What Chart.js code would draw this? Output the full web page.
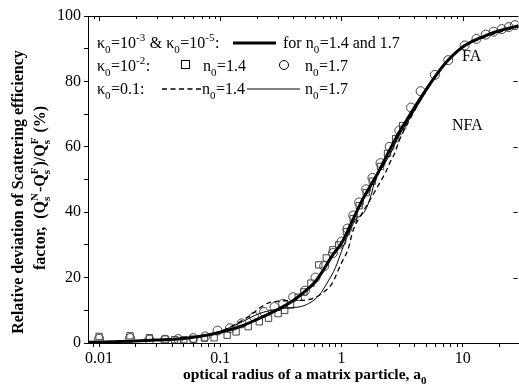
<!DOCTYPE html>
<html>
<head>
<meta charset="utf-8">
<script src="https://cdn.jsdelivr.net/npm/chart.js@4"></script>
<style>
html,body{margin:0;padding:0;background:#fff;overflow:hidden;width:519px;height:386px;}
canvas{display:block;}
</style>
</head>
<body>
<canvas id="c" width="524" height="386"></canvas>
<script>
// ---- data ----
const xMin = 0.0081, xMax = 28.9;
const xTickLabels = [0.01, 0.1, 1, 10];
const xMinorTicks = [0.009,0.01,0.02,0.03,0.04,0.05,0.06,0.07,0.08,0.09,0.1,0.2,0.3,0.4,0.5,0.6,0.7,0.8,0.9,1,2,3,4,5,6,7,8,9,10,20];
const yTickLabels = [0, 20, 40, 60, 80, 100];

// kappa0 = 1e-3 & 1e-5 (thick solid)
const aThick = [0.0081,0.01,0.02,0.03,0.05,0.07,0.1,0.15,0.2,0.3,0.4,0.5,0.6,0.7,0.85,1.0,1.2,1.5,2,2.5,3,3.5,4,5,7,10,15,20,29];
const vThick = [0.2,0.3,0.6,0.9,1.4,2.1,3.3,5.2,7.2,10.3,13,15.8,18.5,22,27,30.5,36.5,44,52,59,64.5,68.5,72,77.5,85,90.5,93.8,95.5,97];

// kappa0 = 0.1, n0 = 1.4 (dashed)
const aDash = [0.0081,0.01,0.03,0.05,0.07,0.1,0.13,0.17,0.24,0.3,0.4,0.54,0.69,0.83,0.91,1.0,1.13,1.25,1.5,1.8,2.0,2.3,2.5,2.75,3.0,3.5,4,5,7,10,15,20,29];
const vDash = [0.2,0.3,0.9,1.5,2.2,3.5,5.5,8,12,12.8,13,13.3,15.2,18,21,24.5,28.5,34.5,40,45,48,52,55,58,62,67,71,77,85,90.3,93.5,95,96.7];

// kappa0 = 0.1, n0 = 1.7 (thin solid)
const aThin = [0.0081,0.01,0.03,0.05,0.07,0.1,0.143,0.21,0.29,0.38,0.47,0.56,0.65,0.78,0.89,1.0,1.13,1.3,1.57,1.75,1.9,2.2,2.5,3,3.5,4,5,7,10,15,20,29];
const vThin = [0.2,0.3,0.9,1.5,2.2,3.6,6,9,10.3,10.8,11.2,12.5,14.5,19,23,28,33,37.5,40.5,45,50,54,57.5,63.5,67.5,71,77,85,90.5,93.8,95.3,96.8];

// kappa0 = 1e-2, n0 = 1.4 (squares)
const aSq = [0.01,0.018,0.026,0.035,0.042,0.05,0.06,0.074,0.089,0.114,0.135,0.17,0.21,0.25,0.3,0.34,0.38,0.44,0.49,0.56,0.65,0.75,0.85,0.95,1.1,1.25,1.4,1.6,1.8,2.1,2.4,2.8,3.2];
const vSq = [2,2.2,1.6,1.2,1.0,1.0,1.2,1.5,1.6,2.4,3.4,5,6.5,7.6,9,10,11.6,14,15.6,18.3,23.9,26,28.5,30,34,38,42,46,49.5,54,58,62.5,66.5];

// kappa0 = 1e-2, n0 = 1.7 (circles)
const aCi = [0.01,0.018,0.026,0.035,0.045,0.06,0.075,0.095,0.12,0.15,0.19,0.23,0.28,0.33,0.4,0.5,0.61,0.72,0.85,1.0,1.12,1.25,1.4,1.6,1.8,2.1,2.5,3.0,3.75,4.5,5.9,7.6,10.4,13,15.5,18,21,24,27];
const vCi = [1.3,1.5,1.0,1.0,1.2,1.5,2,3.8,4.5,6,8,9.5,11,12,14,16,20,23.5,27.5,31,35,39,43,47,50.5,55,60,65,72,77,82,86.5,91,93,94.3,95.2,96,96.6,97.2];

const pts = (a, v) => a.map((x, i) => ({x: x, y: v[i]}));
const SERIF = '"Liberation Serif", "DejaVu Serif", serif';

function richWidth(ctx, parts, size, weight) {
  const fN = `${weight} ${size}px ${SERIF}`;
  const fS = `${weight} ${Math.round(size*0.68)}px ${SERIF}`;
  let w = 0;
  for (const p of parts) {
    if (p[1] === 'n') { ctx.font = fN; w += ctx.measureText(p[0]).width; }
    else if (p[1] === 'bp') { ctx.font = fS; w += Math.max(ctx.measureText(p[0]).width, ctx.measureText(p[2]).width) + 1; }
    else { ctx.font = fS; w += ctx.measureText(p[0]).width + 0.5; }
  }
  return w;
}
function drawRich(ctx, parts, x, y, size, weight) {
  const fN = `${weight} ${size}px ${SERIF}`;
  const fS = `${weight} ${Math.round(size*0.68)}px ${SERIF}`;
  ctx.textAlign = 'left';
  ctx.textBaseline = 'alphabetic';
  let cx = x;
  for (const p of parts) {
    if (p[1] === 'n') { ctx.font = fN; ctx.fillText(p[0], cx, y); cx += ctx.measureText(p[0]).width; }
    else if (p[1] === 'b') { ctx.font = fS; ctx.fillText(p[0], cx, y + size*0.3); cx += ctx.measureText(p[0]).width + 0.5; }
    else if (p[1] === 'p') { ctx.font = fS; ctx.fillText(p[0], cx, y - size*0.42); cx += ctx.measureText(p[0]).width + 0.5; }
    else if (p[1] === 'bp') {
      ctx.font = fS;
      ctx.fillText(p[0], cx, y + size*0.3);
      ctx.fillText(p[2], cx, y - size*0.42);
      cx += Math.max(ctx.measureText(p[0]).width, ctx.measureText(p[2]).width) + 1;
    }
  }
  return cx;
}

const decor = {
  id: 'decor',
  beforeDatasetsDraw(chart) {
    const ctx = chart.ctx;
    ctx.save();
    ctx.fillStyle = '#000';
    ctx.font = `16px ${SERIF}`;
    ctx.textAlign = 'left';
    ctx.fillText('FA', 462, 61);
    ctx.fillText('NFA', 452, 130);
    ctx.restore();
  },
  afterDraw(chart) {
    const ctx = chart.ctx;
    const ca = chart.chartArea;
    const xs = chart.scales.x, ys = chart.scales.y;
    ctx.save();
    ctx.strokeStyle = '#000';
    ctx.fillStyle = '#000';
    ctx.lineWidth = 1;
    // top border and inward ticks
    ctx.beginPath();
    ctx.moveTo(ca.left, ca.top + 0.5);
    ctx.lineTo(ca.right, ca.top + 0.5);
    for (const t of xMinorTicks) {
      const px = Math.round(xs.getPixelForValue(t)) + 0.5;
      const len = xTickLabels.includes(t) ? 5 : 3;
      ctx.moveTo(px, ca.top);
      ctx.lineTo(px, ca.top + len);
    }
    // right inward ticks
    const rx = ca.right - 1;
    for (const v of [20, 40, 60, 80]) {
      const py = Math.round(ys.getPixelForValue(v)) + 0.5;
      ctx.moveTo(rx, py);
      ctx.lineTo(rx - 4, py);
    }
    ctx.stroke();

    // legend
    const r1 = 48, r2 = 71, r3 = 94;
    drawRich(ctx, [['κ','n'],['0','b'],['=10','n'],['-3','p'],[' & κ','n'],['0','b'],['=10','n'],['-5','p'],[':','n']], 97, r1, 16, 'normal');
    ctx.lineWidth = 3;
    ctx.beginPath(); ctx.moveTo(233, r1 - 5); ctx.lineTo(276, r1 - 5); ctx.stroke();
    drawRich(ctx, [['for n','n'],['0','b'],['=1.4 and 1.7','n']], 283, r1, 16, 'normal');

    drawRich(ctx, [['κ','n'],['0','b'],['=10','n'],['-2','p'],[':','n']], 97, r2, 16, 'normal');
    ctx.lineWidth = 1;
    ctx.strokeRect(181.5, r2 - 10.5, 8, 8);
    drawRich(ctx, [['n','n'],['0','b'],['=1.4','n']], 203, r2, 16, 'normal');
    ctx.beginPath(); ctx.arc(284, r2 - 6, 4.5, 0, Math.PI*2); ctx.stroke();
    drawRich(ctx, [['n','n'],['0','b'],['=1.7','n']], 305, r2, 16, 'normal');

    drawRich(ctx, [['κ','n'],['0','b'],['=0.1:','n']], 97, r3, 16, 'normal');
    ctx.lineWidth = 1.3;
    ctx.setLineDash([5, 3.5]);
    ctx.beginPath(); ctx.moveTo(162, r3 - 5); ctx.lineTo(201, r3 - 5); ctx.stroke();
    ctx.setLineDash([]);
    drawRich(ctx, [['n','n'],['0','b'],['=1.4','n']], 202, r3, 16, 'normal');
    ctx.lineWidth = 1;
    ctx.beginPath(); ctx.moveTo(247, r3 - 5); ctx.lineTo(300, r3 - 5); ctx.stroke();
    drawRich(ctx, [['n','n'],['0','b'],['=1.7','n']], 305, r3, 16, 'normal');

    // x axis title
    const xt = [['optical radius of a matrix particle, a','n'],['0','b']];
    const xw = richWidth(ctx, xt, 15.5, 'bold');
    drawRich(ctx, xt, 305 - xw/2, 379, 15.5, 'bold');

    // y axis title (rotated)
    const y1 = [['Relative deviation of Scattering efficiency','n']];
    const y2 = [['factor,  (Q','n'],['s','bp','N'],['-Q','n'],['s','bp','F'],[')/Q','n'],['s','bp','F'],[' (%)','n']];
    ctx.save();
    ctx.translate(23, 192);
    ctx.rotate(-Math.PI/2);
    let w1 = richWidth(ctx, y1, 16, 'bold');
    drawRich(ctx, y1, -w1/2, 0, 16, 'bold');
    ctx.restore();
    ctx.save();
    ctx.translate(45, 188);
    ctx.rotate(-Math.PI/2);
    let w2 = richWidth(ctx, y2, 16, 'bold');
    drawRich(ctx, y2, -w2/2, 0, 16, 'bold');
    ctx.restore();
    ctx.restore();
  }
};

new Chart(document.getElementById('c'), {
  type: 'line',
  data: {
    datasets: [
      { label: 'k1e-3', data: pts(aThick, vThick), borderColor: '#000', borderWidth: 3, pointRadius: 0, fill: false, cubicInterpolationMode: 'monotone' },
      { label: 'k0.1 n1.4', data: pts(aDash, vDash), borderColor: '#000', borderWidth: 1.3, borderDash: [5, 3.5], pointRadius: 0, fill: false, cubicInterpolationMode: 'monotone' },
      { label: 'k0.1 n1.7', data: pts(aThin, vThin), borderColor: '#000', borderWidth: 1, pointRadius: 0, fill: false, cubicInterpolationMode: 'monotone' },
      { label: 'k1e-2 n1.4', data: pts(aSq, vSq), showLine: false, pointStyle: 'rect', pointRadius: 4.5, pointBorderColor: '#444', pointBackgroundColor: 'rgba(0,0,0,0)', pointBorderWidth: 1 },
      { label: 'k1e-2 n1.7', data: pts(aCi, vCi), showLine: false, pointStyle: 'circle', pointRadius: 4.5, pointBorderColor: '#444', pointBackgroundColor: 'rgba(0,0,0,0)', pointBorderWidth: 1 }
    ]
  },
  options: {
    responsive: false,
    animation: false,
    devicePixelRatio: 1,
    layout: { padding: { top: 16, right: 0, bottom: 0, left: 0 } },
    plugins: { legend: { display: false }, tooltip: { enabled: false } },
    scales: {
      x: {
        type: 'logarithmic',
        min: xMin, max: xMax,
        afterBuildTicks(scale) { scale.ticks = xMinorTicks.map(v => ({ value: v, major: xTickLabels.includes(v) })); },
        afterFit(scale) { scale.height = 43; },
        ticks: {
          autoSkip: false, maxRotation: 0, padding: 2, color: '#000',
          font: { family: SERIF, size: 16 },
          callback(v) { return xTickLabels.includes(v) ? String(v) : ''; }
        },
        grid: { drawOnChartArea: false, tickLength: 4, color: '#000', tickColor: '#000' },
        border: { color: '#000', width: 1 }
      },
      y: {
        type: 'linear',
        min: 0, max: 100,
        afterFit(scale) { scale.width = 88; },
        ticks: {
          stepSize: 10, padding: 3, color: '#000',
          font: { family: SERIF, size: 16 },
          callback(v) { return yTickLabels.includes(v) ? String(v) : ''; }
        },
        grid: { drawOnChartArea: false, tickLength: 4, color: '#000', tickColor: '#000' },
        border: { color: '#000', width: 1 }
      }
    }
  },
  plugins: [decor]
});
</script>
</body>
</html>
